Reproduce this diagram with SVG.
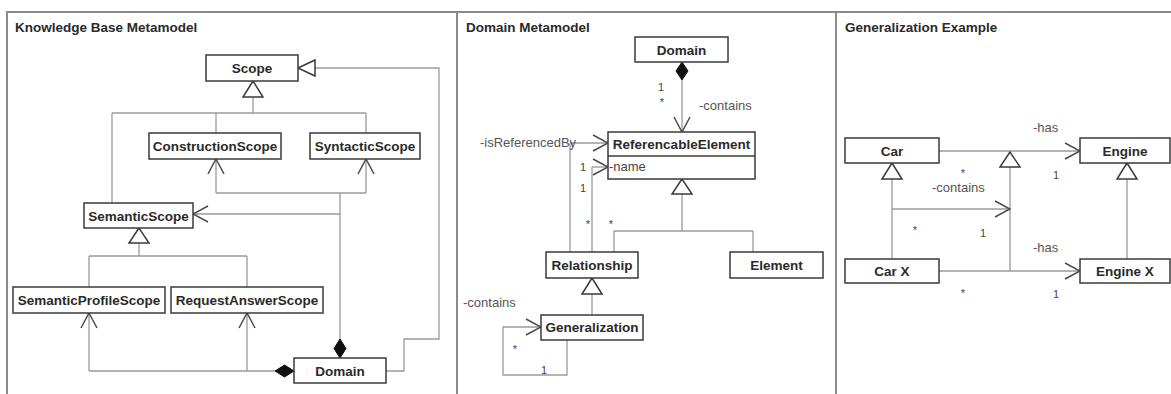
<svg xmlns="http://www.w3.org/2000/svg" width="1171" height="394" viewBox="0 0 1171 394">
<style>
.frame{fill:none;stroke:#8a8a8a;stroke-width:2}
.box{fill:#fff;stroke:#3a3a3a;stroke-width:1.5}
.ln{fill:none;stroke:#9a9a9a;stroke-width:1.3}
.arr{marker-end:url(#open)}
.tri{fill:#fff;stroke:#3a3a3a;stroke-width:1.5}
.dia{fill:#111;stroke:#111;stroke-width:1}
.title{font-family:"Liberation Sans",Arial,sans-serif;font-weight:bold;font-size:13.5px;fill:#2a2a2a}
.lbl{font-family:"Liberation Sans",Arial,sans-serif;font-weight:bold;font-size:13.5px;fill:#2a2a2a;text-anchor:middle}
.attr{font-family:"Liberation Sans",Arial,sans-serif;font-size:13px;fill:#444}
.role{font-family:"Liberation Sans",Arial,sans-serif;font-size:13px;fill:#555}
.mult{font-family:"Liberation Sans",Arial,sans-serif;font-size:11px;fill:#444;text-anchor:middle}
</style>
<defs>
<marker id="open" markerUnits="userSpaceOnUse" markerWidth="17" markerHeight="18" viewBox="0 0 17 18" refX="16" refY="9" orient="auto">
<path d="M1,1 L16,9 L1,17" fill="none" stroke="#4a4a4a" stroke-width="1.5"/>
</marker>
</defs>
<rect width="1171" height="394" fill="#fff"/>
<g id="frames">
<path class="frame" d="M7,394 V12 H1171 M457,12 V394 M836,12 V394"/>
<text class="title" x="15" y="32">Knowledge Base Metamodel</text>
<text class="title" x="466" y="32">Domain Metamodel</text>
<text class="title" x="845" y="32">Generalization Example</text>
</g>
<g id="connectors">
<!-- Panel 1 -->
<path class="ln" d="M253,97 V113 M112,113 H366 M216,113 V133 M366,113 V133 M112,113 V203"/>
<path class="ln" d="M340,339 V193 M216,193 H366"/>
<path class="ln arr" d="M216,193 V159"/>
<path class="ln arr" d="M366,193 V159"/>
<path class="ln arr" d="M340,214 H193"/>
<path class="ln" d="M139,243 V256 M89,256 H247 M89,256 V287 M247,256 V287"/>
<path class="ln" d="M275,371 H89 M247,371 V350"/>
<path class="ln arr" d="M89,371 V313"/>
<path class="ln arr" d="M247,350 V313"/>
<path class="ln" d="M386,371 H404 V339 H439 V68 H315"/>
<polygon class="tri" points="253,81 243,97 263,97"/>
<polygon class="tri" points="139,228 129,243 149,243"/>
<polygon class="tri" points="298,68 315,60 315,76"/>
<polygon class="dia" points="340,339 346,348.5 340,358 334,348.5"/>
<polygon class="dia" points="275,371 284.5,365 294,371 284.5,377"/>
<!-- Panel 2 -->
<path class="ln arr" d="M682,80 V132"/>
<polygon class="dia" points="682,62 688,71 682,80 676,71"/>
<path class="ln" d="M570,252 V143"/>
<path class="ln arr" d="M570,143 H608"/>
<path class="ln" d="M592,252 V167"/>
<path class="ln arr" d="M592,167 H608"/>
<path class="ln" d="M682,194 V231 M614,231 H753 M614,231 V252 M753,231 V252"/>
<polygon class="tri" points="682,179 672,194 692,194"/>
<path class="ln" d="M592,294 V315"/>
<polygon class="tri" points="592,278 582,294 602,294"/>
<path class="ln arr" d="M567,340 V375 H503 V327 H541"/>
<!-- Panel 3 -->
<path class="ln arr" d="M939,151 H1080"/>
<path class="ln arr" d="M939,271 H1080"/>
<path class="ln" d="M892,179 V259 M1127,179 V259 M1010,167 V271"/>
<path class="ln arr" d="M892,209 H1010"/>
<polygon class="tri" points="892,163 882,179 902,179"/>
<polygon class="tri" points="1127,163 1117,179 1137,179"/>
<polygon class="tri" points="1010,152 1000,167 1020,167"/>
</g>
<g id="labels">
<text class="role" x="480" y="147">-isReferencedBy</text>
<text class="role" x="699" y="110">-contains</text>
<text class="role" x="463" y="307">-contains</text>
<text class="mult" x="661" y="91">1</text>
<text class="mult" x="662" y="106">*</text>
<text class="mult" x="583" y="171">1</text>
<text class="mult" x="583" y="192">1</text>
<text class="mult" x="588" y="228">*</text>
<text class="mult" x="611" y="228">*</text>
<text class="mult" x="515" y="353">*</text>
<text class="mult" x="544" y="374">1</text>
<text class="role" x="1033" y="132">-has</text>
<text class="role" x="1033" y="252">-has</text>
<text class="role" x="932" y="192">-contains</text>
<text class="mult" x="963" y="177">*</text>
<text class="mult" x="1056" y="179">1</text>
<text class="mult" x="915" y="234">*</text>
<text class="mult" x="983" y="237">1</text>
<text class="mult" x="963" y="297">*</text>
<text class="mult" x="1056" y="298">1</text>
</g>
<g id="kb-scope"><rect class="box" x="206" y="55" width="92" height="26"/><text class="lbl" x="252" y="73">Scope</text></g>
<g id="kb-construction"><rect class="box" x="149" y="133" width="132" height="26"/><text class="lbl" x="215" y="151">ConstructionScope</text></g>
<g id="kb-syntactic"><rect class="box" x="310" y="133" width="110" height="26"/><text class="lbl" x="365" y="151">SyntacticScope</text></g>
<g id="kb-semantic"><rect class="box" x="84" y="203" width="109" height="25"/><text class="lbl" x="138.5" y="220.5">SemanticScope</text></g>
<g id="kb-semprofile"><rect class="box" x="13" y="287" width="152" height="26"/><text class="lbl" x="89" y="305">SemanticProfileScope</text></g>
<g id="kb-requestanswer"><rect class="box" x="171" y="287" width="152" height="26"/><text class="lbl" x="247" y="305">RequestAnswerScope</text></g>
<g id="kb-domain"><rect class="box" x="294" y="358" width="92" height="25"/><text class="lbl" x="340" y="375.5">Domain</text></g>
<g id="dm-domain"><rect class="box" x="635" y="37" width="93" height="25"/><text class="lbl" x="681.5" y="54.5">Domain</text></g>
<g id="dm-referencable"><rect class="box" x="608" y="132" width="147" height="47"/><line x1="608" y1="156" x2="755" y2="156" stroke="#3a3a3a" stroke-width="1.5"/><text class="lbl" x="681.5" y="149">ReferencableElement</text><text class="attr" x="609" y="171">-name</text></g>
<g id="dm-relationship"><rect class="box" x="546" y="252" width="92" height="26"/><text class="lbl" x="592" y="270">Relationship</text></g>
<g id="dm-element"><rect class="box" x="730" y="252" width="93" height="26"/><text class="lbl" x="776.5" y="270">Element</text></g>
<g id="dm-generalization"><rect class="box" x="541" y="315" width="102" height="25"/><text class="lbl" x="592" y="332">Generalization</text></g>
<g id="ge-car"><rect class="box" x="845" y="138" width="94" height="25"/><text class="lbl" x="892" y="156">Car</text></g>
<g id="ge-engine"><rect class="box" x="1080" y="138" width="90" height="25"/><text class="lbl" x="1125" y="156">Engine</text></g>
<g id="ge-carx"><rect class="box" x="845" y="259" width="94" height="24"/><text class="lbl" x="892" y="276">Car X</text></g>
<g id="ge-enginex"><rect class="box" x="1080" y="259" width="90" height="24"/><text class="lbl" x="1125" y="276">Engine X</text></g>
</svg>
